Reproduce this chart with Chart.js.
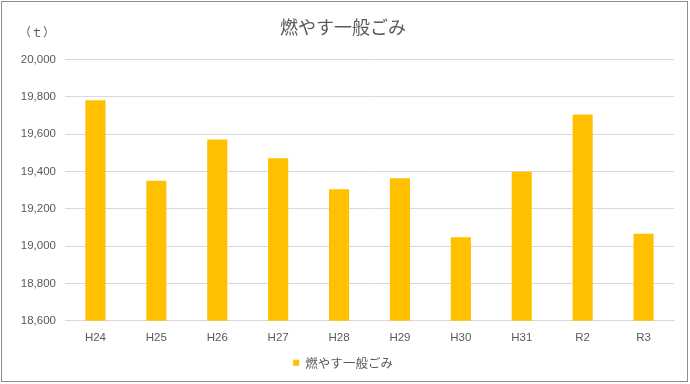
<!DOCTYPE html>
<html>
<head>
<meta charset="utf-8">
<script src="https://cdn.jsdelivr.net/npm/chart.js@4"></script>
<style>
    body { margin: 0; background: #fff; }
    #wrap { width: 690px; height: 384px; position: relative; }
</style>
</head>
<body>
<div id="wrap"><canvas id="chart" width="690" height="384"></canvas></div>
<script>
// 年度
const categories = ['H24', 'H25', 'H26', 'H27', 'H28', 'H29', 'H30', 'H31', 'R2', 'R3']
// 燃やす一般ごみ (t)
const burnableWaste = [19782, 19350, 19572, 19471, 19305, 19364, 19048, 19398, 19705, 19066]
const yMin = 18600
const yMax = 20000
const yStep = 200

const textColor = '#595959'
const jpFont = "'Noto Sans CJK JP', sans-serif"
const numFont = "'Liberation Sans', 'Noto Sans CJK JP', sans-serif"

// 外枠と単位ラベル
const decorPlugin = {
    id: 'decor',
    afterDraw(chart) {
        let ctx = chart.ctx
        ctx.save()
        ctx.strokeStyle = '#8c8c8c'
        ctx.lineWidth = 1
        ctx.strokeRect(1.5, 1.5, 686, 380)
        ctx.fillStyle = textColor
        ctx.font = "12px " + jpFont
        ctx.textAlign = 'center'
        ctx.textBaseline = 'middle'
        ctx.fillText('（ｔ）', 37, 32)
        ctx.restore()
    }
}

new Chart(document.getElementById('chart'), {
    type: 'bar',
    data: {
        labels: categories,
        datasets: [{
            label: '燃やす一般ごみ',
            data: burnableWaste,
            backgroundColor: '#FFC000',
            borderWidth: 0,
            categoryPercentage: 1,
            barPercentage: 0.33
        }]
    },
    options: {
        responsive: false,
        animation: false,
        layout: { padding: { left: 12, right: 16, top: 0, bottom: 5 } },
        scales: {
            x: {
                grid: { display: false, drawTicks: false },
                border: { color: '#d9d9d9' },
                ticks: { color: textColor, font: { family: numFont, size: 11.5 }, padding: 10 }
            },
            y: {
                min: yMin,
                max: yMax,
                afterFit(scale) { scale.width = 53 },
                grid: { color: '#d9d9d9', drawTicks: false },
                border: { display: false },
                ticks: {
                    stepSize: yStep,
                    padding: 9,
                    color: textColor,
                    font: { family: numFont, size: 11.5 },
                    callback: v => v.toLocaleString('en-US')
                }
            }
        },
        plugins: {
            title: {
                display: true,
                text: '燃やす一般ごみ',
                color: textColor,
                font: { family: jpFont, size: 18, weight: 'normal' },
                padding: { top: 16, bottom: 22 }
            },
            legend: {
                position: 'bottom',
                labels: {
                    color: textColor,
                    font: { family: jpFont, size: 12.5 },
                    boxWidth: 6,
                    boxHeight: 6,
                    padding: 2
                }
            },
            tooltip: { enabled: false }
        }
    },
    plugins: [decorPlugin]
})
</script>
</body>
</html>
